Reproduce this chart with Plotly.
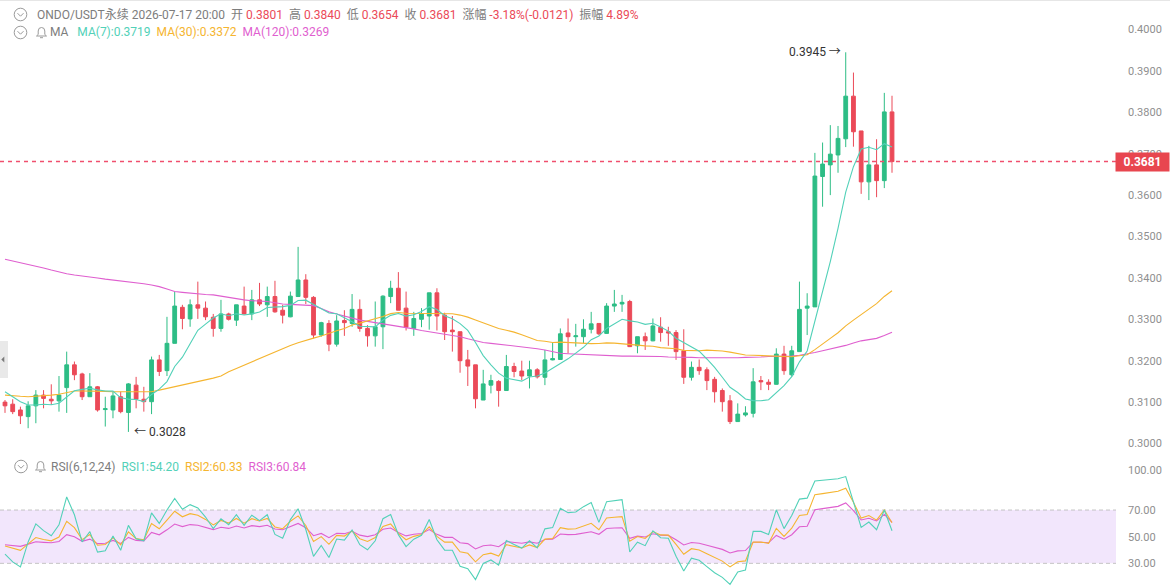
import numpy as np
import pandas as pd
import plotly.graph_objects as go

W, H = 1170, 588

# ---------------- data ----------------
opens = [
    .3100, .3095, .3081, .3065, .3091, .3117, .3107, .3103, .3135, .3190,
    .3168, .3113, .3137, .3082, .3081, .3113, .3075, .3141, .3107, .3101,
    .3202, .3176, .3242, .3329, .3301, .3335, .3327, .3305, .3278, .3313,
    .3298, .3332, .3313, .3347, .3335, .3355, .3322, .3306, .3355, .3395,
    .3353, .3262, .3290, .3240, .3297, .3290, .3324, .3278, .3260, .3282,
    .3355, .3375, .3327, .3278, .3300, .3308, .3364, .3310, .3274, .3270,
    .3202, .3190, .3105, .3141, .3150, .3128, .3186, .3175, .3163, .3178,
    .3160, .3202, .3203, .3267, .3258, .3258, .3276, .3290, .3266, .3332,
    .3337, .3343, .3236, .3258, .3248, .3281, .3270, .3268, .3224, .3160,
    .3184, .3178, .3155, .3128, .3103, .3053, .3069, .3073, .3152, .3148,
    .3143, .3216, .3166, .3222, .3327, .3330, .3645, .3673, .3697, .3736,
    .3839, .3755, .3632, .3673, .3635, .3801]
highs = [
    .3105, .3107, .3089, .3102, .3129, .3129, .3143, .3163, .3222, .3198,
    .3171, .3170, .3139, .3113, .3125, .3125, .3146, .3161, .3137, .3210,
    .3214, .3306, .3367, .3335, .3348, .3391, .3343, .3313, .3347, .3316,
    .3335, .3379, .3371, .3388, .3379, .3393, .3335, .3367, .3475, .3409,
    .3356, .3294, .3298, .3310, .3322, .3361, .3348, .3286, .3343, .3358,
    .3393, .3414, .3367, .3318, .3327, .3364, .3375, .3316, .3308, .3270,
    .3226, .3190, .3178, .3166, .3153, .3214, .3195, .3200, .3200, .3182,
    .3226, .3244, .3278, .3302, .3289, .3300, .3318, .3290, .3339, .3371,
    .3359, .3347, .3258, .3268, .3302, .3305, .3282, .3274, .3276, .3198,
    .3203, .3184, .3161, .3133, .3117, .3097, .3090, .3182, .3163, .3155,
    .3230, .3236, .3236, .3391, .3363, .3702, .3727, .3769, .3767, .3945,
    .3896, .3755, .3719, .3735, .3847, .3840]
lows = [
    .3074, .3071, .3047, .3037, .3049, .3085, .3093, .3077, .3074, .3153,
    .3105, .3113, .3077, .3041, .3061, .3073, .3028, .3085, .3077, .3071,
    .3163, .3163, .3242, .3276, .3282, .3301, .3298, .3258, .3270, .3297,
    .3284, .3312, .3298, .3332, .3306, .3316, .3290, .3305, .3355, .3337,
    .3254, .3258, .3223, .3234, .3260, .3282, .3270, .3234, .3234, .3228,
    .3339, .3322, .3273, .3260, .3281, .3275, .3273, .3250, .3222, .3171,
    .3139, .3085, .3105, .3121, .3089, .3128, .3160, .3153, .3133, .3157,
    .3141, .3201, .3203, .3218, .3234, .3242, .3266, .3262, .3265, .3318,
    .3318, .3233, .3218, .3226, .3247, .3246, .3236, .3202, .3144, .3152,
    .3166, .3129, .3099, .3077, .3047, .3052, .3065, .3063, .3129, .3129,
    .3142, .3166, .3161, .3222, .3262, .3330, .3572, .3600, .3654, .3716,
    .3717, .3603, .3588, .3595, .3617, .3654]
closes = [
    .3091, .3077, .3067, .3091, .3117, .3109, .3103, .3117, .3190, .3166,
    .3113, .3137, .3081, .3084, .3115, .3077, .3144, .3107, .3101, .3202,
    .3174, .3242, .3332, .3302, .3335, .3327, .3306, .3278, .3313, .3300,
    .3335, .3313, .3347, .3337, .3355, .3318, .3310, .3356, .3395, .3353,
    .3262, .3292, .3240, .3296, .3292, .3324, .3278, .3260, .3282, .3356,
    .3375, .3322, .3281, .3302, .3313, .3364, .3308, .3270, .3270, .3200,
    .3187, .3108, .3144, .3152, .3128, .3186, .3174, .3163, .3178, .3161,
    .3202, .3205, .3265, .3258, .3260, .3276, .3289, .3265, .3332, .3337,
    .3341, .3234, .3258, .3248, .3284, .3268, .3267, .3222, .3160, .3184,
    .3176, .3152, .3125, .3101, .3053, .3071, .3074, .3149, .3149, .3143,
    .3216, .3176, .3224, .3324, .3332, .3646, .3675, .3699, .3737, .3839,
    .3753, .3632, .3673, .3635, .3801, .3681]

# moving-average values read where earlier history is needed
ma7_head = [.3125, .3113, .3101, .3093, .3093, .3095]
ma30_head = [.3117, .3115, .3114, .3113, .3114, .3115, .3117, .3119, .3123, .3127,
             .3127, .3127, .3127, .3126, .3125, .3125, .3124, .3124, .3124, .3125,
             .3129, .3133, .3137, .3141, .3145, .3149, .3153, .3158, .3163]
ma120 = [
    .3445, .3441, .3436, .3432, .3428, .3424, .3419, .3414, .3410, .3407,
    .3405, .3402, .3400, .3397, .3395, .3393, .3391, .3389, .3386, .3383,
    .3379, .3373, .3367, .3365, .3363, .3362, .3360, .3359, .3356, .3352,
    .3349, .3347, .3345, .3344, .3343, .3340, .3337, .3336, .3335, .3335,
    .3333, .3326, .3318, .3313, .3308, .3303, .3298, .3295, .3292, .3289,
    .3286, .3284, .3281, .3277, .3273, .3270, .3267, .3265, .3262, .3258,
    .3253, .3248, .3244, .3242, .3240, .3238, .3236, .3234, .3231, .3229,
    .3226, .3222, .3218, .3217, .3216, .3215, .3214, .3213, .3212, .3212,
    .3211, .3211, .3211, .3210, .3210, .3210, .3209, .3209, .3208, .3208,
    .3207, .3207, .3206, .3206, .3206, .3207, .3208, .3208, .3209, .3210,
    .3210, .3211, .3211, .3213, .3216, .3220, .3224, .3228, .3232, .3237,
    .3243, .3248, .3251, .3254, .3261, .3269]

rsi_periods = [6, 12, 24]
rsi_start = [37, 43, 44]          # first visible RSI values (read)
price_ticks = [0.30, 0.31, 0.32, 0.33, 0.34, 0.35, 0.36, 0.37, 0.38, 0.39, 0.40]
rsi_ticks = [30, 50, 70, 100]
last_price = 0.3681

# ---------------- derived series ----------------
n = len(closes)
idx = list(range(n))
s = pd.Series(closes)
ma7 = s.rolling(7).mean().to_numpy()
ma7[:len(ma7_head)] = ma7_head
ma30 = s.rolling(30).mean().to_numpy()
ma30[:len(ma30_head)] = ma30_head


def rsi_series(cl, per, start):
    d = np.diff(cl)
    tot = float(np.mean(np.abs(d[:per])))
    up = tot * start / 100.0
    out = [start]
    for x in d:
        up = (max(x, 0.0) + (per - 1) * up) / per
        tot = (abs(x) + (per - 1) * tot) / per
        out.append(100.0 * up / tot if tot > 0 else 50.0)
    return out


rsis = [rsi_series(closes, p, st) for p, st in zip(rsi_periods, rsi_start)]

# ---------------- style ----------------
GREEN = "#2dbd85"
RED = "#eb4a58"
C7 = "#52d1b8"
C30 = "#f5b530"
C120 = "#df5fcf"
GREY = "#7d7d7d"
AX = "#8f8f8f"
FONT = "Roboto, 'Noto Sans CJK SC', sans-serif"

XD = 1116 / W                      # right end of plotting area
x_lo, x_hi = -0.648, 144.04
main_dom = [1 - 452 / H, 1.0]
rsi_dom = [0.0, 1 - 455 / H]


def px(x):
    return x / W


def py(y):
    return 1 - y / H


fig = go.Figure()
# last price reference line (dashed, red)
fig.add_trace(go.Scatter(x=[x_lo, x_hi], y=[last_price, last_price], mode="lines",
                         line=dict(color="#f0506e", width=1.5, dash="4px,4px"),
                         hoverinfo="skip", xaxis="x", yaxis="y"))
fig.add_trace(go.Candlestick(
    x=idx, open=opens, high=highs, low=lows, close=closes,
    increasing=dict(line=dict(color=GREEN, width=1), fillcolor=GREEN),
    decreasing=dict(line=dict(color=RED, width=1), fillcolor=RED),
    whiskerwidth=0, hoverinfo="skip", xaxis="x", yaxis="y"))
for ser, col in [(ma120, C120), (ma30, C30), (ma7, C7)]:
    fig.add_trace(go.Scatter(x=idx, y=ser, mode="lines", line=dict(color=col, width=1.1),
                             hoverinfo="skip", xaxis="x", yaxis="y"))
for ser, col in [(rsis[2], C120), (rsis[1], C30), (rsis[0], C7)]:
    fig.add_trace(go.Scatter(x=idx, y=ser, mode="lines", line=dict(color=col, width=1.1),
                             hoverinfo="skip", xaxis="x2", yaxis="y2"))

shapes = []
# RSI band
shapes.append(dict(type="rect", xref="paper", yref="y2", x0=0, x1=XD, y0=30, y1=70,
                   fillcolor="#f2e6fc", line=dict(width=0), layer="below"))
for lv in (30, 70):
    shapes.append(dict(type="line", xref="paper", yref="y2", x0=0, x1=XD, y0=lv, y1=lv,
                       line=dict(color="#c4c4c4", width=1, dash="4px,3px"), layer="below"))
# top border
shapes.append(dict(type="line", xref="paper", yref="paper", x0=0, x1=1, y0=py(0.5), y1=py(0.5),
                   line=dict(color="#e6e6e6", width=1)))
# left collapse handle
shapes.append(dict(type="rect", xref="paper", yref="paper", x0=0, x1=px(8), y0=py(378), y1=py(341),
                   fillcolor="#e9e9e9", line=dict(width=0)))
shapes.append(dict(type="path", xref="paper", yref="paper",
                   path=f"M {px(4.3)} {py(356.5)} L {px(1.3)} {py(359.5)} L {px(4.3)} {py(362.5)} Z",
                   fillcolor="#7a7a7a", line=dict(width=0)))


# circle-chevron icons and bell icons
def circle_icon(cx, cy):
    r = 6.3
    shapes.append(dict(type="circle", xref="paper", yref="paper",
                       x0=px(cx - r), x1=px(cx + r), y0=py(cy + r), y1=py(cy - r),
                       line=dict(color="#9a9a9a", width=1)))
    shapes.append(dict(type="path", xref="paper", yref="paper",
                       path=f"M {px(cx - 3)} {py(cy - 1.3)} L {px(cx)} {py(cy + 1.7)} L {px(cx + 3)} {py(cy - 1.3)}",
                       line=dict(color="#9a9a9a", width=1)))


def bell_icon(cx, cy):
    p = (f"M {px(cx - 5)} {py(cy + 3.5)} L {px(cx - 3.3)} {py(cy + 2)} L {px(cx - 3.3)} {py(cy - 1.5)} "
         f"Q {px(cx - 3.3)} {py(cy - 5)} {px(cx)} {py(cy - 5)} "
         f"Q {px(cx + 3.3)} {py(cy - 5)} {px(cx + 3.3)} {py(cy - 1.5)} "
         f"L {px(cx + 3.3)} {py(cy + 2)} L {px(cx + 5)} {py(cy + 3.5)} Z")
    shapes.append(dict(type="path", xref="paper", yref="paper", path=p,
                       line=dict(color="#9a9a9a", width=1)))
    shapes.append(dict(type="line", xref="paper", yref="paper",
                       x0=px(cx - 1.5), x1=px(cx + 1.5), y0=py(cy + 5.2), y1=py(cy + 5.2),
                       line=dict(color="#9a9a9a", width=1)))


circle_icon(20.5, 14.5)
circle_icon(20.5, 32.5)
circle_icon(21, 466.5)
bell_icon(41.5, 32.5)
bell_icon(40.5, 466.5)

ann = []


def sp(txt, col):
    return f"<span style='color:{col}'>{txt}</span>"


hdr = (sp("ONDO/USDT永续 2026-07-17 20:00", GREY) + "  " +
       sp("开 ", GREY) + sp("0.3801", RED) + "  " +
       sp("高 ", GREY) + sp("0.3840", RED) + "  " +
       sp("低 ", GREY) + sp("0.3654", RED) + "  " +
       sp("收 ", GREY) + sp("0.3681", RED) + "  " +
       sp("涨幅 ", GREY) + sp("-3.18%(-0.0121)", RED) + "  " +
       sp("振幅 ", GREY) + sp("4.89%", RED))
ann.append(dict(xref="paper", yref="paper", x=px(35), y=py(14.5), xanchor="left", yanchor="middle",
                text=hdr, showarrow=False, font=dict(size=12, color=GREY, family=FONT)))
row2 = (sp("MA", GREY) + "   " + sp(f"MA(7):{0.3719:.4f}", C7) + "  " +
        sp("MA(30):0.3372", C30) + "  " + sp("MA(120):0.3269", C120))
ann.append(dict(xref="paper", yref="paper", x=px(48), y=py(32.5), xanchor="left", yanchor="middle",
                text=row2, showarrow=False, font=dict(size=12, color=GREY, family=FONT)))
row3 = (sp("RSI(6,12,24)", GREY) + "  " + sp("RSI1:54.20", C7) + "  " +
        sp("RSI2:60.33", C30) + "  " + sp("RSI3:60.84", C120))
ann.append(dict(xref="paper", yref="paper", x=px(48.5), y=py(466.5), xanchor="left", yanchor="middle",
                text=row3, showarrow=False, font=dict(size=12, color=GREY, family=FONT)))

# extreme price markers
hi_i = int(np.argmax(highs))
lo_i = int(np.argmin(lows))
ann.append(dict(xref="x", yref="y", x=hi_i, y=highs[hi_i], xanchor="right", yanchor="middle",
                xshift=-3, text=f"{highs[hi_i]:.4f} →", showarrow=False,
                font=dict(size=12, color="#333333", family=FONT)))
ann.append(dict(xref="x", yref="y", x=lo_i, y=lows[lo_i], xanchor="left", yanchor="middle",
                xshift=4, text=f"← {lows[lo_i]:.4f}", showarrow=False,
                font=dict(size=12, color="#333333", family=FONT)))
# last price box (covers the 0.3700 tick label, as in the reference)
ann.append(dict(xref="paper", yref="y", x=1.0, y=last_price, xanchor="right", yanchor="middle",
                text=f"<b>{last_price:.4f}</b>", showarrow=False, bgcolor="#e8464f",
                width=51, height=16, borderpad=1,
                font=dict(size=12, color="white", family=FONT)))

fig.update_layout(
    width=W, height=H, margin=dict(l=0, r=0, t=0, b=0),
    paper_bgcolor="white", plot_bgcolor="white", showlegend=False,
    font=dict(family=FONT), hovermode=False,
    xaxis=dict(domain=[0, XD], range=[x_lo, x_hi], anchor="y", showticklabels=False,
               showgrid=False, zeroline=False, showline=False, ticks="",
               rangeslider=dict(visible=False)),
    xaxis2=dict(domain=[0, XD], range=[x_lo, x_hi], anchor="y2", matches="x",
                showticklabels=False, showgrid=False, zeroline=False, showline=False, ticks=""),
    yaxis=dict(domain=main_dom, range=[0.29795, 0.40713], anchor="x", side="right",
               tickvals=price_ticks, ticktext=[f"{v:.4f}" for v in price_ticks],
               showgrid=False, zeroline=False, showline=False, ticks="",
               ticklabelstandoff=11, tickfont=dict(size=11, color=AX, family=FONT)),
    yaxis2=dict(domain=rsi_dom, range=[11.5, 111.3], anchor="x2", side="right",
                tickvals=rsi_ticks, ticktext=[f"{v:.2f}" for v in rsi_ticks],
                showgrid=False, zeroline=False, showline=False, ticks="",
                ticklabelstandoff=11, tickfont=dict(size=11, color=AX, family=FONT)),
    shapes=shapes, annotations=ann,
)

fig.write_html("out.html")
